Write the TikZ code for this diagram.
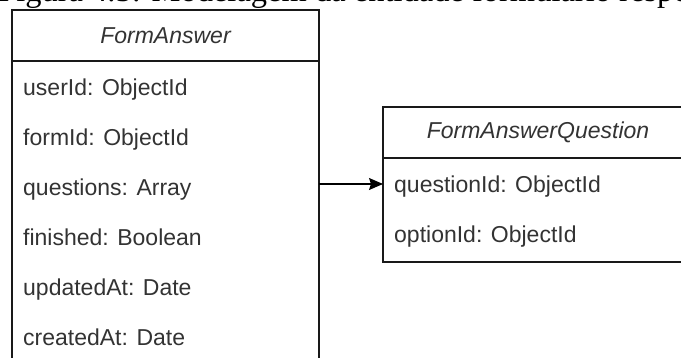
\documentclass[tikz,border=0pt]{standalone}
\usepackage{fontspec}
\setmainfont{Liberation Sans}
\newfontfamily\capfont{Liberation Serif}
\usetikzlibrary{arrows.meta}
\begin{document}
\begin{tikzpicture}[x=1pt,y=-1pt,
  box/.style={draw=black!90, line width=1.3pt, rectangle, inner sep=0pt, outer sep=0pt},
  attr/.style={anchor=base west, inner sep=0pt, font=\fontsize{23}{23}\selectfont, text=black!80},
  title/.style={inner sep=0pt, font=\fontsize{23}{23}\selectfont\itshape, text=black!80},
  conn/.style={-{Stealth[length=14pt,width=12pt,inset=2pt]}, line width=1.3pt},
  captext/.style={anchor=base west, inner sep=0pt, font=\capfont\fontsize{32.5}{32.5}\selectfont}]
\useasboundingbox (0,0) rectangle (681,358);
\clip (0,0) rectangle (681,358);
\node[captext] (cap) at (-2,2) {Figura 4.5: Modelagem da entidade formulário respo};
% FormAnswer
\node[box, anchor=north west, minimum width=307pt, minimum height=51pt] (fah) at (12,10) {};
\node[title] (fat) at (fah.center) {FormAnswer};
\node[box, anchor=north west, minimum width=307pt, minimum height=330pt] (fab) at (12,61) {};
\node[attr] (a1) at (23,96) {userId: ObjectId};
\node[attr] (a2) at (23,146) {formId: ObjectId};
\node[attr] (a3) at (23,196) {questions: Array};
\node[attr] (a4) at (23,246) {finished: Boolean};
\node[attr] (a5) at (23,296) {updatedAt: Date};
\node[attr] (a6) at (23,346) {createdAt: Date};
% FormAnswerQuestion
\node[box, anchor=north west, minimum width=310pt, minimum height=51pt] (fqh) at (383,107) {};
\node[title] (fqt) at (fqh.center) {FormAnswerQuestion};
\node[box, anchor=north west, minimum width=310pt, minimum height=104pt] (fqb) at (383,158) {};
\node[attr] (b1) at (394,193) {questionId: ObjectId};
\node[attr] (b2) at (394,243) {optionId: ObjectId};
% connector
\coordinate (ay) at (0,184);
\draw[conn] (fab.east |- ay) -- (fqb.west |- ay);
\end{tikzpicture}
\end{document}
